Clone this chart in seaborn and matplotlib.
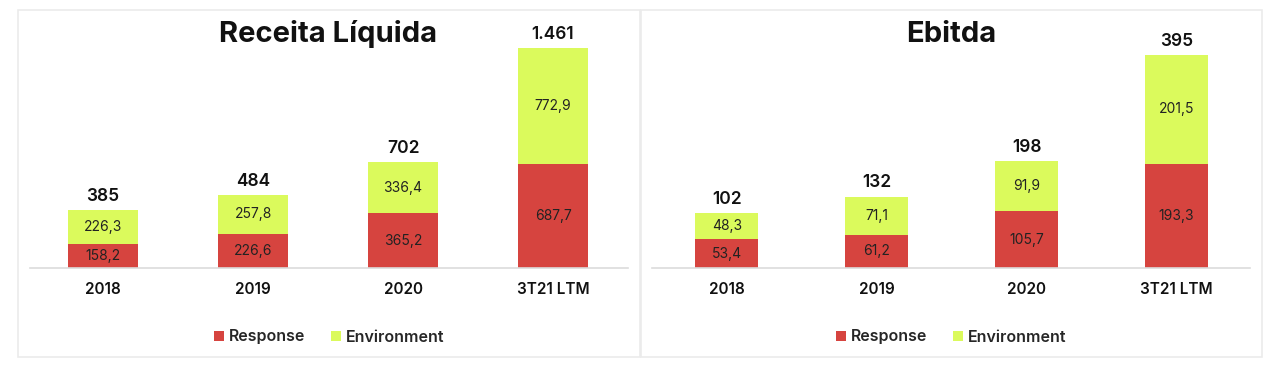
import matplotlib
matplotlib.use("Agg")
import matplotlib.pyplot as plt
from matplotlib.patches import Rectangle, Patch
import seaborn as sns
import pandas as pd

categories = ["2018", "2019", "2020", "3T21 LTM"]
receita_response = [158.2, 226.6, 365.2, 687.7]
receita_environment = [226.3, 257.8, 336.4, 772.9]
receita_total = ["385", "484", "702", "1.461"]
ebitda_response = [53.4, 61.2, 105.7, 193.3]
ebitda_environment = [48.3, 71.1, 91.9, 201.5]
ebitda_total = ["102", "132", "198", "395"]

RED = "#D6443F"
GREEN = "#DBFA5C"
FONT = "Inter"

sns.set_theme(style="white")
plt.rcParams["font.family"] = [FONT, "DejaVu Sans"]

W, H = 1280, 369
fig = plt.figure(figsize=(W / 100, H / 100), dpi=100)
fig.patch.set_facecolor("white")

# panel frames
for (x0, x1) in [(18, 640), (641, 1262)]:
    fig.add_artist(Rectangle((x0 / W, 1 - 357 / H), (x1 - x0) / W, (357 - 10) / H,
                             transform=fig.transFigure, fill=False,
                             edgecolor="#EBEBEB", linewidth=1.2))


def fx(px):
    return px / W


def fy(py):
    return 1 - py / H


def panel(left_px, right_px, xlim, ymax, resp, env, totals, title, title_x, width):
    ax = fig.add_axes([fx(left_px), fy(268), fx(right_px - left_px), (268 - 20) / H])
    total = [r + e for r, e in zip(resp, env)]
    df = pd.DataFrame({"cat": categories, "total": total, "resp": resp})
    sns.barplot(data=df, x="cat", y="total", color=GREEN, width=width,
                saturation=1, ax=ax, edgecolor="none")
    sns.barplot(data=df, x="cat", y="resp", color=RED, width=width,
                saturation=1, ax=ax, edgecolor="none")
    ax.set_xlim(*xlim)
    ax.set_ylim(0, ymax)
    ax.set_xlabel("")
    ax.set_ylabel("")
    ax.set_yticks([])
    for s in ["top", "left", "right"]:
        ax.spines[s].set_visible(False)
    ax.spines["bottom"].set_color("#DCDCDC")
    ax.spines["bottom"].set_linewidth(1.2)
    ax.tick_params(axis="x", length=0, pad=10)
    for lab in ax.get_xticklabels():
        lab.set_fontsize(11)
        lab.set_fontweight("semibold")
        lab.set_color("#111111")
    ax.patch.set_alpha(0)
    for i, (r, e, t) in enumerate(zip(resp, env, totals)):
        ax.text(i, r / 2, f"{r:.1f}".replace(".", ","), ha="center", va="center",
                fontsize=10, color="#222222")
        ax.text(i, r + e / 2, f"{e:.1f}".replace(".", ","), ha="center", va="center",
                fontsize=10, color="#222222")
        ax.annotate(t, (i, r + e), xytext=(0, 4), textcoords="offset points",
                    ha="center", va="bottom", fontsize=12.5, fontweight="semibold",
                    color="#111111")
    fig.text(fx(title_x), fy(34), title, ha="center", va="center",
             fontsize=21, fontweight="bold", color="#111111")
    handles = [Patch(facecolor=RED, edgecolor="none", label="Response"),
               Patch(facecolor=GREEN, edgecolor="none", label="Environment")]
    center = (left_px + right_px) / 2
    fig.legend(handles=handles, loc="center", bbox_to_anchor=(fx(center), fy(337)),
               ncol=2, frameon=False, handlelength=0.65,
               handleheight=0.65, handletextpad=0.3, columnspacing=1.6,
               prop={"size": 11.5, "weight": "semibold"})
    return ax


panel(30, 628, (-0.487, 3.5), 1461 * 248 / 220,
      receita_response, receita_environment, receita_total,
      "Receita Líquida", 328, 0.467)
panel(652, 1250, (-0.5, 3.49), 395 * 248 / 213,
      ebitda_response, ebitda_environment, ebitda_total,
      "Ebitda", 951, 0.42)

fig.savefig("out.png", dpi=100, facecolor="white")
